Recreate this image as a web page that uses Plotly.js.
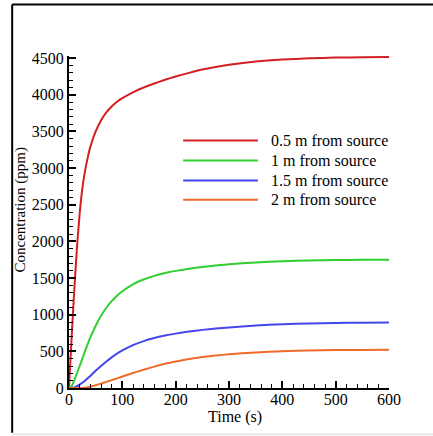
<!DOCTYPE html>
<html>
<head>
<meta charset="utf-8">
<script src="https://cdn.plot.ly/plotly-3.0.1.min.js"></script>
<style>html,body{margin:0;padding:0;background:#fff;}#chart{width:433px;height:436px;}</style>
</head>
<body>
<div id="chart"></div>
<script>
// Time (s)
const time = [0, 5, 10, 15, 20, 25, 30, 35, 40, 50, 60, 70, 80, 90, 100, 120, 140, 160, 180, 200, 225, 250, 275, 300, 350, 400, 450, 500, 550, 600];
// Concentration (ppm) at each distance
const c05 = [0, 700, 1350, 1920, 2380, 2720, 2960, 3140, 3290, 3500, 3650, 3760, 3840, 3905, 3955, 4035, 4100, 4155, 4205, 4250, 4300, 4345, 4380, 4410, 4455, 4482, 4498, 4508, 4513, 4515];
const c10 = [0, 25, 110, 205, 300, 400, 500, 597, 690, 850, 985, 1095, 1185, 1260, 1320, 1415, 1480, 1530, 1568, 1598, 1628, 1652, 1672, 1690, 1714, 1730, 1740, 1746, 1749, 1751];
const c15 = [0, 0, 7, 24, 46, 72, 100, 132, 165, 235, 300, 362, 418, 468, 512, 585, 640, 682, 715, 742, 770, 793, 812, 827, 852, 870, 881, 888, 892, 895];
const c20 = [0, 0, 0, 0, 0, 0, 4, 10, 18, 38, 60, 84, 108, 132, 156, 204, 250, 292, 330, 362, 395, 422, 443, 460, 486, 502, 512, 517, 520, 522];

const seriesNames = ["0.5 m from source", "1 m from source", "1.5 m from source", "2 m from source"];
const seriesValues = [c05, c10, c15, c20];
const seriesColors = ["#d41f22", "#2fcf2f", "#4646ee", "#f06a2a"];

const xTicks = [0, 100, 200, 300, 400, 500, 600];
const yTicks = [0, 500, 1000, 1500, 2000, 2500, 3000, 3500, 4000, 4500];

const xTitle = "Time (s)";
const yTitle = "Concentration (ppm)";

const font = "'Liberation Serif', 'Times New Roman', Times, serif";

const traces = seriesValues.map((v, i) => ({
  x: time, y: v, type: "scatter", mode: "lines", name: seriesNames[i],
  line: {color: seriesColors[i], width: 2, shape: "spline", smoothing: 0.5},
  showlegend: false, hoverinfo: "skip"
}));

const mL = 68.5, mR = 43.5, mT = 56.1, mB = 47.7;
const pw = 433 - mL - mR, ph = 436 - mT - mB;
const px = p => (p - mL) / pw;
const py = p => (436 - mB - p) / ph;

// legend drawn manually (long line samples like the original)
const legRows = [140.7, 160.7, 180.7, 200];
const shapes = [];
const annotations = [];
seriesNames.forEach((n, i) => {
  shapes.push({type: "line", xref: "paper", yref: "paper", x0: px(183), x1: px(258), y0: py(legRows[i]), y1: py(legRows[i]),
    line: {color: seriesColors[i], width: 2}});
  annotations.push({xref: "paper", yref: "paper", x: px(269), y: py(legRows[i]), xanchor: "left", yanchor: "middle",
    text: n, showarrow: false, font: {family: font, size: 16, color: "#000"}});
});
// axis titles
annotations.push({xref: "paper", yref: "paper", x: px(235), y: py(406), xanchor: "center", yanchor: "top",
  text: xTitle, showarrow: false, font: {family: font, size: 16, color: "#000"}});
annotations.push({xref: "paper", yref: "paper", x: px(20), y: py(210), xanchor: "center", yanchor: "middle",
  textangle: -90, text: yTitle, showarrow: false, font: {family: font, size: 15, color: "#000"}});

// outer frame
shapes.push({type: "line", xref: "paper", yref: "paper", x0: px(11.5), x1: px(11.5), y0: py(433), y1: py(4.5), line: {color: "#000", width: 2}});
shapes.push({type: "line", xref: "paper", yref: "paper", x0: px(11.5), x1: px(440), y0: py(4.5), y1: py(4.5), line: {color: "#000", width: 2}});
shapes.push({type: "line", xref: "paper", yref: "paper", x0: px(11.5), x1: px(440), y0: py(434.5), y1: py(434.5), line: {color: "#d8d8d8", width: 1}});

const layout = {
  width: 433, height: 436,
  margin: {l: mL, r: mR, t: mT, b: mB, pad: 0},
  paper_bgcolor: "#fff", plot_bgcolor: "#fff",
  font: {family: font, size: 16, color: "#000"},
  showlegend: false,
  xaxis: {
    range: [0, 600], tickvals: xTicks, ticktext: xTicks.map(String),
    showgrid: false, zeroline: false, showline: true, linecolor: "#000", linewidth: 2,
    ticks: "inside", ticklen: 7, tickwidth: 2, tickcolor: "#000",
    minor: {dtick: 20, ticks: "inside", ticklen: 4, tickwidth: 1, tickcolor: "#000", showgrid: false},
    tickfont: {family: font, size: 16, color: "#000"},
    ticklabelstandoff: -4
  },
  yaxis: {
    range: [0, 4530], tickvals: yTicks, ticktext: yTicks.map(String),
    showgrid: false, zeroline: false, showline: true, linecolor: "#000", linewidth: 2,
    ticks: "inside", ticklen: 7, tickwidth: 2, tickcolor: "#000",
    minor: {dtick: 100, ticks: "inside", ticklen: 4, tickwidth: 1, tickcolor: "#000", showgrid: false},
    tickfont: {family: font, size: 16, color: "#000"}
  },
  shapes: shapes,
  annotations: annotations
};

Plotly.newPlot("chart", traces, layout, {displayModeBar: false, staticPlot: true});
</script>
</body>
</html>
